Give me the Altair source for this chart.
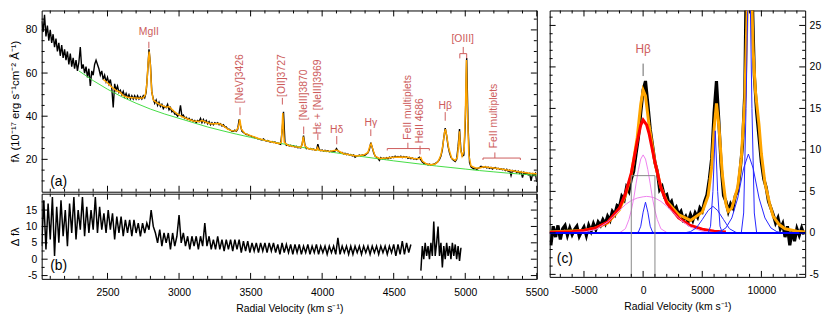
import altair as alt
import pandas as pd

FONT = "Liberation Sans"
TXT_RED = "#cd5c5c"
ORANGE = "#ffa500"
GREEN = "#44dd44"
VIOLET = "#ee82ee"
BLUE = "#2424ff"

# ---------------- panel (a): spectrum, 10 A sampling grid ----------------
spec_wave = list(range(2040, 5501, 10))
spec_flux = [
    84, 79, 87, 77, 82, 75, 80, 74, 78, 72,
    76, 70, 74, 68, 73, 67, 71, 66, 70, 64,
    69, 63, 67, 62, 66, 61, 65, 72, 62, 64,
    60, 63, 58, 62, 54, 61, 59, 64, 66, 64,
    62, 59, 61, 57, 59, 56, 58, 55, 57, 53,
    44, 55, 52, 54, 51, 52, 50, 51.5, 49, 50.5,
    48.5, 50, 48, 49.5, 48, 49.5, 48, 49.5, 48, 49,
    48, 49.5, 48.5, 51, 60, 71, 64, 51, 48, 46,
    47.5, 45, 46.5, 44.5, 45.5, 43.5, 44.5, 44, 45.5, 43,
    44, 42, 42.5, 41, 41, 40, 41, 45, 40, 40.5,
    39, 39.5, 38.5, 39, 38, 38.5, 37.5, 38, 37, 38,
    37.5, 39, 37, 38.5, 37, 38, 36.5, 37.5, 36, 37,
    36, 37, 36.5, 37, 36, 36.5, 35.5, 36, 35, 35,
    34, 34, 33.5, 33, 33, 33.5, 33, 34, 38.5, 35.5,
    33, 32.5, 32, 31.5, 31.5, 31, 31, 30.5, 30.5, 30,
    30, 29.5, 29.5, 29.2, 29, 29.5, 28.8, 28.5, 28.7, 28.2,
    28, 28.3, 27.8, 28, 27.5, 27.6, 27.2, 27, 33, 42,
    28, 26.5, 26.8, 26.2, 26.5, 26, 26.3, 25.7, 26, 25.4,
    25.6, 25.3, 27, 31, 26.5, 25, 25.2, 24.8, 25, 24.5,
    24.8, 24.3, 24.2, 27, 24.5, 24, 24.3, 23.8, 24.2, 23.7,
    24, 23.5, 23.8, 23.5, 23.7, 23.8, 25, 24, 23.4, 23,
    23.2, 22.5, 22.8, 22.2, 22.5, 22, 22.2, 21.6, 22, 21,
    21.5, 21.6, 22, 21.6, 22, 21.8, 22, 22.5, 23, 24.5,
    27.7, 25.5, 23, 21.5, 21, 20.5, 19.5, 20.8, 20.2, 20.6,
    20.2, 20.8, 20.3, 21, 20.6, 21.2, 20.8, 21.5, 21, 21.3,
    21, 21.5, 20.8, 21.3, 20.9, 21.2, 20.5, 20.9, 20.3, 20.6,
    20.2, 20.4, 20, 20.5, 21, 19.8, 18.8, 18.2, 17.8, 18,
    17.4, 17.8, 17.3, 17.5, 17.8, 18, 18.5, 19, 20, 21.5,
    24.5, 30, 34.5, 31, 26, 23, 21, 20, 19.5, 19,
    20, 26, 34, 24, 21.5, 22, 36, 67, 35, 18.5,
    16.5, 16, 15.5, 15.8, 15.3, 15.8, 16.2, 16.8, 16.5, 16.2,
    16.6, 16, 16.4, 15.8, 16.3, 15.5, 16, 16.2, 15.6, 15.9,
    15.4, 15.6, 15.2, 15.5, 14.8, 15.4, 14.5, 15, 12.5, 14.8,
    14.4, 14.8, 13.8, 14.5, 13.5, 14.2, 11.5, 14, 13.2, 13.8,
    12.8, 13.5, 10, 13.2, 12.5, 13.5, 9.5,
]

fit_pts = [
    (2470, 57), (2500, 55.5), (2530, 53.5), (2560, 52), (2590, 51), (2610, 49.5),
    (2640, 48.8), (2680, 48.5), (2720, 48.3), (2750, 48.5), (2765, 50), (2775, 55),
    (2785, 66), (2792, 70), (2800, 63), (2808, 52), (2820, 47.5), (2850, 46),
    (2880, 45), (2910, 44.2), (2930, 44.5), (2960, 42.5), (2990, 41), (3030, 39.5),
    (3070, 38.5), (3100, 37.8), (3140, 37.5), (3160, 38), (3190, 37.2), (3220, 36.5),
    (3250, 36.5), (3280, 36.6), (3310, 35.5), (3340, 34), (3370, 33.2), (3400, 33.3),
    (3415, 35), (3425, 38.5), (3435, 34), (3460, 32), (3500, 31), (3550, 29.8),
    (3600, 28.8), (3650, 28), (3700, 27.3), (3715, 28), (3725, 41.5), (3735, 28),
    (3760, 26.5), (3800, 25.9), (3850, 25.5), (3860, 27), (3868, 30.5), (3878, 26.5),
    (3900, 25), (3960, 24.3), (3969, 25.5), (3978, 24.2), (4050, 23.7), (4095, 24.2),
    (4105, 24.2), (4150, 22.6), (4200, 22), (4240, 21.6), (4290, 22), (4320, 23.2),
    (4335, 26.5), (4342, 27.2), (4355, 24.5), (4370, 21.5), (4400, 20.4), (4450, 20.6),
    (4500, 21), (4550, 21.1), (4600, 21), (4640, 20.4), (4680, 20.3), (4690, 20.8),
    (4700, 19.2), (4730, 17.8), (4760, 17.5), (4790, 17.8), (4810, 19), (4830, 22),
    (4845, 27), (4855, 32.5), (4862, 34), (4870, 31), (4885, 25), (4905, 20.5),
    (4930, 19.5), (4945, 21), (4955, 28), (4960, 33), (4966, 25), (4978, 21.5),
    (4992, 24), (5002, 45), (5008, 66), (5014, 45), (5025, 22), (5040, 17),
    (5070, 16), (5100, 16), (5130, 16.6), (5160, 16.3), (5200, 16), (5240, 15.6),
    (5280, 15.2), (5320, 14.8), (5360, 14.4), (5400, 14), (5450, 13.6), (5500, 13.3),
]

cont_wave = list(range(2300, 5501, 100))
cont_flux = [61, 56.5, 52.5, 49, 46, 43.3, 41, 39, 37, 35,
             33.3, 31.7, 30.2, 28.8, 27.5, 26.3, 25.1, 24, 23, 22,
             21.1, 20.2, 19.3, 18.5, 17.7, 16.9, 16.2, 15.5, 14.8, 14.2,
             13.6, 13.1, 12.6]

# line identifications (label text, wavelength, flux position)
hlabels = [("MgII", 2789, 79), ("H\u03b4", 4102, 33.4), ("H\u03b3", 4340, 37),
           ("H\u03b2", 4860, 44.6), ("[OIII]", 4982, 75.7)]
vlabels = [("[NeV]3426", 3426, 57.4), ("[OII]3727", 3722, 58.8),
           ("[NeIII]3870", 3871, 49.9), ("H\u03b5 + [NeIII]3969", 3970, 49),
           ("FeII multiplets", 4599, 44.1), ("HeII 4686", 4684, 37.9),
           ("FeII multiplets", 5200, 40.1)]
id_ticks = [(2789, 74.5, 71.5), (3426, 44.1, 40.5), (3722, 48.5, 45.4), (3871, 35.2, 31.7),
            (3970, 31.7, 29), (4102, 30.8, 27), (4340, 33.9, 30.8), (4599, 27.7, 25),
            (4455, 25, 24.1), (4749, 25, 24.1), (4684, 26.3, 22.3), (4860, 41.9, 37.9),
            (4986, 72.1, 69), (4962, 69, 66.8), (5010, 69, 66.8), (5207, 23.2, 20.6),
            (5124, 20.6, 19.7), (5385, 20.6, 19.7)]
id_brackets = [(4455, 4749, 25), (4962, 5010, 69), (5124, 5385, 20.6)]

# ---------------- panel (b): residuals ----------------
res1_wave = list(range(2040, 4621, 15))
res1_flux = [
    4, 18, 3, 17, 6, 19, 1, 16, 5, 18,
    7, 15, 4, 17, 8, 19, 6, 15, 9, 19,
    7, 16, 8, 15, 9, 19, 8, 16, 9, 14,
    8, 15, 9, 14, 6, 13, 8, 13, 7, 12,
    8, 12, 7, 12, 8, 11, 7, 11, 8, 11,
    9, 15, 10, 8, 5, 9, 4, 8, 5, 8,
    3, 8, 4, 7, 13.5, 5, 8, 4, 7, 3,
    7, 4, 7, 3, 7, 4, 11, 4, 7, 3,
    6, 3, 7, 3, 6, 2.5, 6, 3, 6, 2.5,
    6, 3, 6, 2, 5.5, 2.5, 5.5, 2, 5, 2.5,
    5, 2, 5, 2.5, 5, 2, 5, 2.5, 5, 2,
    4.5, 1.5, 5, 2, 4.5, 2, 4.5, 1.5, 4.5, 2,
    4.5, 1.5, 4, 2, 4.5, 1.5, 4, 2, 4.5, 1.5,
    4, 2, 4, 1.5, 4, 2, 4, 1.5, 6.5, 1.5,
    4, 2, 4, 1.5, 4, 1.5, 4, 2, 4, 1.5,
    4, 2, 4, 1.5, 4, 2, 4, 1.5, 4, 2,
    4, 1.5, 4, 2, 4.5, 1, 4.5, 1.5, 5.5, 1.5,
    5, 2, 4.5,
]
res2_wave = list(range(4690, 4971, 10))
res2_flux = [-3.5, 4, 0, 5, 1, 4, 0, 5, 1, 11.5, 1, 5, 10, 1, 5, -2.5, 4, 0, 5, 1,
             4, 0, 5, 1, 4.5, 0, 4, -0.5, 3.5]

# ---------------- panel (c): H-beta region in velocity ----------------
vel = list(range(-7800, 13601, 200))
vel_flux = [
    -1.5, 0.8, -0.5, 0.9, -0.8, 0.5, 0.9, -0.3, 0.6, -0.2,
    0.4, 0.8, -0.4, 0.2, 0.7, -0.3, 0.9, 0.2, 1.1, 0.4,
    1.3, 0.9, 1.6, 1.1, 2.0, 1.5, 2.6, 2.2, 3.3, 3.1,
    4.4, 4.0, 5.5, 5.0, 6.5, 7.4, 9.5, 11.5, 14.5, 17.2,
    18.3, 15.5, 12.5, 10.5, 8.5, 7.4, 5.2, 5.6, 4.4, 4.6,
    3.4, 3.8, 2.7, 3.1, 2.2, 2.6, 1.6, 2.0, 1.3, 2.2,
    1.5, 2.4, 1.9, 3.0, 2.6, 3.8, 4.6, 6.5, 9.0, 14.5,
    18.3, 13.5, 8.0, 4.5, 3.8, 2.6, 3.5, 3.0, 4.5, 5.0,
    7.5, 10.5, 17, 40, 45, 30, 19, 14.5, 11.5, 8.5,
    6.5, 5.5, 3.8, 3.0, 2.2, 1.2, 1.8, 0.5, 1.1, -0.5,
    0.8, -1.5, 0.3, -1.0, 0.5, -0.3, 0.6, -0.2,
]
total_fit = [(-7900, 0.1), (-5000, 0.3), (-4000, 0.6), (-3000, 1.2), (-2000, 2.8), (-1500, 4.5),
             (-1000, 7), (-500, 11.5), (-200, 15.5), (0, 17.2), (200, 16.5), (500, 13),
             (1000, 8.5), (1500, 5.5), (2000, 3.8), (3000, 2.2), (4000, 1.5), (5000, 2.5),
             (5500, 4.5), (5800, 8), (6000, 12.5), (6200, 15.6), (6400, 13), (6700, 7),
             (7000, 3.5), (7200, 2.6), (7500, 3), (8000, 5.5), (8300, 9), (8600, 16),
             (8800, 27), (8960, 46), (9150, 30), (9300, 22), (9500, 17), (9800, 13),
             (10000, 9.5), (10300, 6), (10700, 3.5), (11000, 2), (11500, 1), (12000, 0.5),
             (13000, 0.2), (13700, 0.1)]
hb_broad_total = [(-7900, 0.05), (-6000, 0.15), (-5000, 0.3), (-4000, 0.6), (-3000, 1.3),
                  (-2000, 3), (-1500, 4.7), (-1000, 7.2), (-500, 11), (-200, 13), (0, 13.6),
                  (300, 13), (500, 12), (1000, 8.5), (1500, 5.5), (2000, 3.6), (3000, 1.8),
                  (4000, 0.9), (5000, 0.45), (6000, 0.2), (7000, 0.1)]
hb_narrow_comp = [(-2000, 0), (-1500, 0.5), (-1200, 1.6), (-1000, 2.7), (-800, 4.1), (-600, 5.9),
                  (-400, 7.6), (-200, 8.9), (0, 9.4), (200, 8.9), (400, 7.6), (600, 5.9),
                  (800, 4.1), (1000, 2.7), (1200, 1.6), (1500, 0.5), (2000, 0.05)]
hb_wide_comp = [(-6000, 0.05), (-5000, 0.1), (-4000, 0.4), (-3000, 1.3), (-2500, 2), (-2000, 2.7),
                (-1500, 3.4), (-1000, 3.9), (-500, 4.2), (0, 4.35), (300, 4.4), (600, 4.35),
                (1000, 4.2), (1500, 3.8), (2000, 3.2), (2500, 2.5), (3000, 1.8), (3500, 1.2),
                (4000, 0.7), (5000, 0.2), (6000, 0.05)]
blue_comps = {
    "hb_nl": [(-600, 0), (-400, 0.1), (-200, 0.8), (0, 2.5), (200, 3.7), (400, 2.5), (600, 0.8),
              (800, 0.1), (1000, 0)],
    "o4959_nl": [(5500, 0), (5700, 0.8), (5900, 5), (6100, 12.3), (6300, 5), (6500, 0.8), (6700, 0)],
    "o4959_br": [(3500, 0), (4000, 0.15), (4500, 0.6), (5000, 1.6), (5500, 2.7), (5900, 3.2),
                 (6300, 2.7), (6800, 1.6), (7300, 0.5), (7800, 0.1), (8000, 0)],
    "o5007_nl": [(8300, 0), (8500, 2.4), (8700, 15), (8960, 37), (9200, 15), (9400, 2.4), (9600, 0)],
    "o5007_br": [(6000, 0), (6500, 0.15), (7000, 0.6), (7500, 1.8), (8000, 4.2), (8500, 7.8),
                 (8900, 9.5), (9300, 7.8), (9800, 4.2), (10300, 1.8), (10800, 0.6), (11300, 0.15),
                 (11800, 0)],
}
baseline = [(-7900, 0), (13700, 0)]
gray_segments = [(-1000, -1000, -5.3, 6.9), (1000, 1000, -5.3, 6.9), (-1000, 1000, 6.9, 6.9)]

# ---------------- tick values ----------------
xab_major = [2500, 3000, 3500, 4000, 4500, 5000, 5500]
xab_minor = [v for v in range(2100, 5500, 100) if v % 500]
ya_major = [20, 40, 60, 80]
ya_minor = [v for v in range(10, 90, 5) if v % 20]
yb_major = [-5, 0, 5, 10, 15]
yb_minor = [-2.5, 2.5, 7.5, 12.5, 17.5]
xc_major = [-5000, 0, 5000, 10000]
xc_minor = [v for v in range(-7000, 14000, 1000) if v % 5000]
yc_major = [-5, 0, 5, 10, 15, 20, 25]
yc_minor = [v for v in range(-4, 27) if v % 5]

W_AB, H_A, H_B = 500, 183, 86
W_C, H_C = 258, 269


def pairs(p):
    return pd.DataFrame({"x": [a for a, _ in p], "y": [b for _, b in p]})


def series(xs, ys):
    n = min(len(xs), len(ys))
    return pd.DataFrame({"x": xs[:n], "y": ys[:n]})


class Panel:
    def __init__(self, xs, ys, xax, yax):
        self.xs, self.ys, self.xax, self.yax = xs, ys, xax, yax

    def X(self, f="x"):
        return alt.X(f"{f}:Q", scale=self.xs, axis=self.xax)

    def Y(self, f="y"):
        return alt.Y(f"{f}:Q", scale=self.ys, axis=self.yax)

    def line(self, df, **mark):
        return alt.Chart(df).mark_line(clip=True, **mark).encode(x=self.X(), y=self.Y())

    def text(self, t, x, y, **mark):
        df = pd.DataFrame({"t": t, "x": x, "y": y})
        return alt.Chart(df).mark_text(font=FONT, **mark).encode(x=self.X(), y=self.Y(), text="t:N")

    def frame_ticks(self, W, H, xmaj, xmin, ymaj, ymin, big=6, small=3):
        out = []
        for vals, L in ((xmaj, big), (xmin, small)):
            d = pd.DataFrame({"x": vals})
            for a, b in ((H, H - L), (0, L)):
                out.append(alt.Chart(d).mark_rule(color="black", strokeWidth=1).encode(
                    x=self.X(), y=alt.value(a), y2=alt.value(b)))
        for vals, L in ((ymaj, big), (ymin, small)):
            d = pd.DataFrame({"y": vals})
            for a, b in ((0, L), (W, W - L)):
                out.append(alt.Chart(d).mark_rule(color="black", strokeWidth=1).encode(
                    y=self.Y(), x=alt.value(a), x2=alt.value(b)))
        return out


# ---------------- panel (a) ----------------
xa = alt.Scale(domain=[2040, 5500], nice=False, zero=False)
ya = alt.Scale(domain=[5, 89], nice=False, zero=False)
ax_ya = alt.Axis(title="f\u03bb (10\u207b\u00b9\u2077 erg s\u207b\u00b9cm\u207b\u00b2 \u00c5\u207b\u00b9)",
                 values=ya_major, ticks=False, tickSize=0, domain=False, grid=False,
                 labelPadding=5, titlePadding=5, titleFontSize=11.5)
A = Panel(xa, ya, None, ax_ya)

a_layers = [
    A.line(series(spec_wave, spec_flux), color="black", strokeWidth=1.4),
    A.line(series(cont_wave, cont_flux), color=GREEN, strokeWidth=1),
    A.line(pairs(fit_pts), color=ORANGE, strokeWidth=1.5),
    alt.Chart(pd.DataFrame({"x": [t[0] for t in id_ticks], "y": [t[1] for t in id_ticks],
                            "y2": [t[2] for t in id_ticks]})).mark_rule(color=TXT_RED, strokeWidth=1).encode(
        x=A.X(), y=A.Y(), y2="y2:Q"),
    alt.Chart(pd.DataFrame({"x": [t[0] for t in id_brackets], "x2": [t[1] for t in id_brackets],
                            "y": [t[2] for t in id_brackets]})).mark_rule(color=TXT_RED, strokeWidth=1).encode(
        x=A.X(), x2="x2:Q", y=A.Y()),
    A.text([t[0] for t in hlabels], [t[1] for t in hlabels], [t[2] for t in hlabels],
           fontSize=10.5, color=TXT_RED),
    A.text([t[0] for t in vlabels], [t[1] for t in vlabels], [t[2] for t in vlabels],
           fontSize=10.5, color=TXT_RED, angle=270),
    A.text(["(a)"], [2100], [9.5], fontSize=14, align="left", color="black"),
] + A.frame_ticks(W_AB, H_A, xab_major, xab_minor, ya_major, ya_minor)
panel_a = alt.layer(*a_layers).properties(width=W_AB, height=H_A)

# ---------------- panel (b) ----------------
yb = alt.Scale(domain=[-6, 20], nice=False, zero=False)
ax_xb = alt.Axis(title="Radial Velocity (km s\u207b\u00b9)", values=xab_major, labelExpr="datum.value + ''",
                 ticks=False, tickSize=0, domain=False, grid=False, labelPadding=9, titlePadding=5,
                 labelFlush=False, labelOverlap=False)
ax_yb = alt.Axis(title="\u0394 f\u03bb", values=yb_major, labelExpr="datum.value + ''",
                 ticks=False, tickSize=0, domain=False, grid=False, labelPadding=5, titlePadding=5,
                 titleFontSize=11.5)
B = Panel(xa, yb, ax_xb, ax_yb)
res_df = pd.concat([series(res1_wave, res1_flux).assign(seg="1"),
                    series(res2_wave, res2_flux).assign(seg="2")])
b_layers = [
    alt.Chart(res_df).mark_line(color="black", strokeWidth=1.5, clip=True).encode(
        x=B.X(), y=B.Y(), detail="seg:N"),
    B.text(["(b)"], [2100], [-2], fontSize=14, align="left", color="black"),
] + B.frame_ticks(W_AB, H_B, xab_major, xab_minor, yb_major, yb_minor)
panel_b = alt.layer(*b_layers).properties(width=W_AB, height=H_B)

# ---------------- panel (c) ----------------
xc = alt.Scale(domain=[-7900, 13700], nice=False, zero=False)
yc = alt.Scale(domain=[-5.3, 26.8], nice=False, zero=False)
ax_xc = alt.Axis(title="Radial Velocity (km s\u207b\u00b9)", values=xc_major, labelExpr="datum.value + ''",
                 ticks=False, tickSize=0, domain=False, grid=False, labelPadding=9, titlePadding=5,
                 labelFlush=False, labelOverlap=False)
ax_yc = alt.Axis(orient="right", values=yc_major, labelExpr="datum.value + ''", title=None,
                 ticks=False, tickSize=0, domain=False, grid=False, labelPadding=4)
C = Panel(xc, yc, ax_xc, ax_yc)
c_layers = [
    C.line(series(vel, vel_flux), color="black", strokeWidth=3.2),
    C.line(pairs(total_fit), color=ORANGE, strokeWidth=3),
    C.line(pairs(hb_broad_total), color="#ff0000", strokeWidth=3),
    C.line(pairs(hb_narrow_comp), color=VIOLET, strokeWidth=1),
    C.line(pairs(hb_wide_comp), color=VIOLET, strokeWidth=1),
]
for name, pts in blue_comps.items():
    c_layers.append(C.line(pairs(pts), color=BLUE, strokeWidth=1))
c_layers += [
    C.line(pairs(baseline), color="#0000ff", strokeWidth=2),
    alt.Chart(pd.DataFrame({"x": [g[0] for g in gray_segments], "x2": [g[1] for g in gray_segments],
                            "y": [g[2] for g in gray_segments], "y2": [g[3] for g in gray_segments]})
              ).mark_rule(color="#888888", strokeWidth=1).encode(x=C.X(), x2="x2:Q", y=C.Y(), y2="y2:Q"),
    C.text(["H\u03b2"], [0], [22.2], fontSize=12, color=TXT_RED),
    alt.Chart(pd.DataFrame({"x": [0], "y": [20.4], "y2": [18.9]})).mark_rule(
        color="#666666", strokeWidth=1).encode(x=C.X(), y=C.Y(), y2="y2:Q"),
    C.text(["(c)"], [-7300], [-3.2], fontSize=14, align="left", color="black"),
]
c_layers += C.frame_ticks(W_C, H_C, xc_major, xc_minor, yc_major, yc_minor)
panel_c = alt.layer(*c_layers).properties(width=W_C, height=H_C)

left = alt.vconcat(panel_a, panel_b, spacing=0)
chart = alt.hconcat(left, panel_c, spacing=-5,
                    padding={"left": 0, "top": 0, "right": 0, "bottom": 0}).configure_view(
    stroke="black", strokeWidth=1).configure_axis(
    labelFont=FONT, titleFont=FONT, labelFontSize=10.5, titleFontSize=10.5,
    titleFontWeight="normal", labelColor="black", titleColor="black")

chart.save("out.html", embed_options={"renderer": "svg", "actions": False})
